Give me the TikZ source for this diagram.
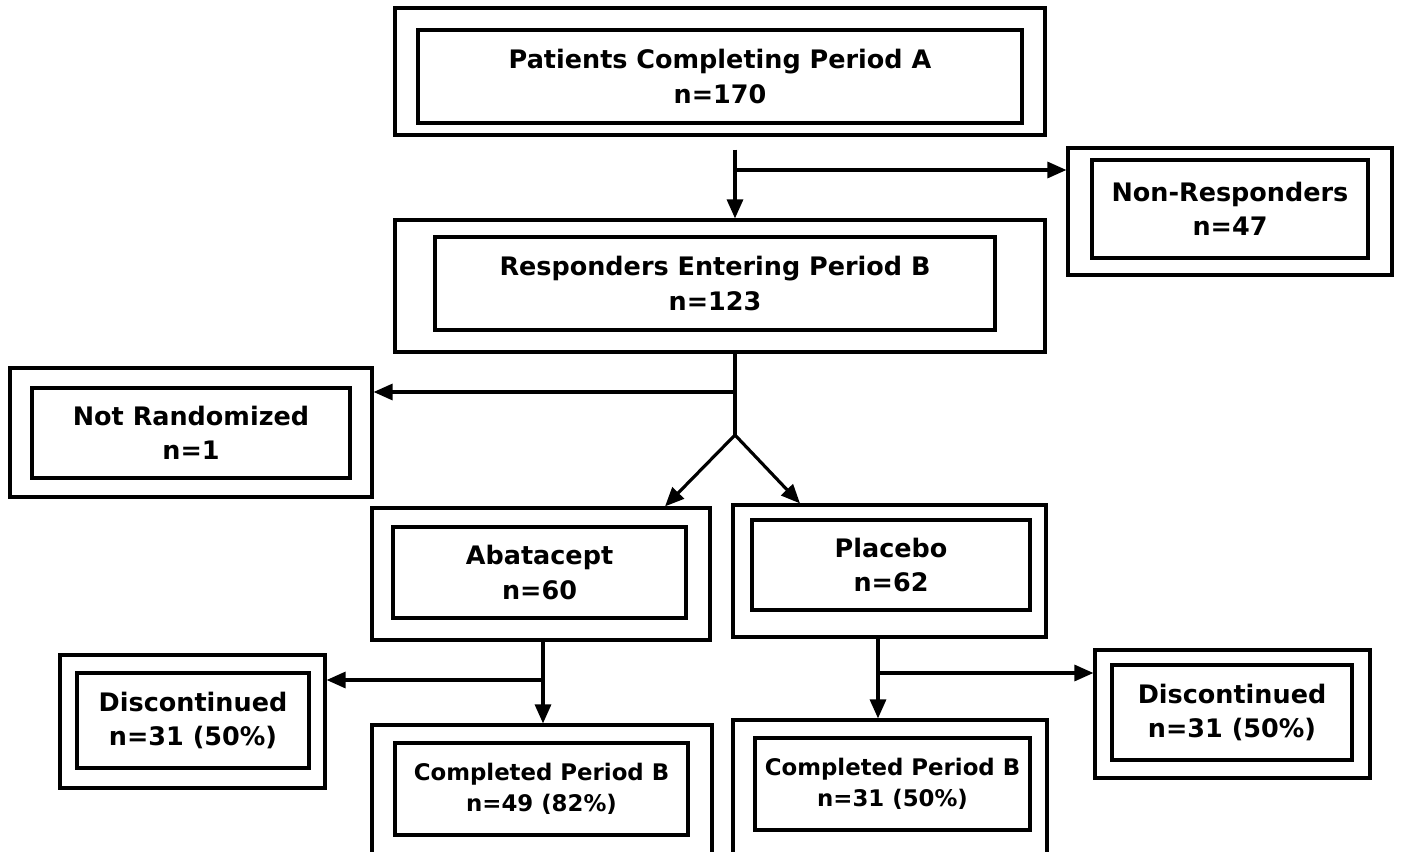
\documentclass[tikz,border=0pt]{standalone}
\usepackage{fontspec}
\setmainfont{DejaVu Sans}
\usepackage{tikz}
\usetikzlibrary{arrows.meta}
\usetikzlibrary{positioning}

\tikzset{
    outerbox/.style={draw, line width=1.8pt, rectangle, inner sep=0pt},
    innerbox/.style={draw, line width=1.8pt, rectangle, inner sep=0pt, align=center,
        font=\fontsize{14.5}{19.5}\selectfont\bfseries},
    smalltext/.style={font=\fontsize{13}{18}\selectfont\bfseries},
    flow/.style={line width=1.8pt, -{Triangle[length=0.38cm,width=0.32cm]}},
    plain/.style={line width=1.8pt}
}

\begin{document}
\begin{tikzpicture}

        \useasboundingbox (0, 0) rectangle (28.2, -17.04);
        \clip (0, 0) rectangle (28.2, -17.04);

        % Top row (outer frame first, then the inner frame with the text)
        \node (pa) [outerbox, minimum width=13cm, minimum height=2.54cm] at (14.4, -1.43) {};
        \node (pain) [innerbox, minimum width=12.08cm, minimum height=1.86cm] at (14.4, -1.53)
            {Patients Completing Period A\\n=170};

        \node (nr) [outerbox, minimum width=6.48cm, minimum height=2.54cm] at (24.6, -4.23) {};
        \node (nrin) [innerbox, minimum width=5.52cm, minimum height=1.96cm] at (24.6, -4.18)
            {Non-Responders\\n=47};

        % Second row
        \node (rb) [outerbox, minimum width=13cm, minimum height=2.64cm] at (14.4, -5.72) {};
        \node (rbin) [innerbox, minimum width=11.2cm, minimum height=1.86cm] at (14.3, -5.67)
            {Responders Entering Period B\\n=123};

        \node (nrand) [outerbox, minimum width=7.24cm, minimum height=2.58cm] at (3.82, -8.65) {};
        \node (nrandin) [innerbox, minimum width=6.36cm, minimum height=1.8cm] at (3.82, -8.66)
            {Not Randomized\\n=1};

        % Randomized arms
        \node (ab) [outerbox, minimum width=6.76cm, minimum height=2.64cm] at (10.82, -11.48) {};
        \node (abin) [innerbox, minimum width=5.86cm, minimum height=1.82cm] at (10.79, -11.45)
            {Abatacept\\n=60};

        \node (pl) [outerbox, minimum width=6.26cm, minimum height=2.64cm] at (17.79, -11.42) {};
        \node (plin) [innerbox, minimum width=5.56cm, minimum height=1.8cm] at (17.82, -11.3)
            {Placebo\\n=62};

        % Bottom row
        \node (dA) [outerbox, minimum width=5.3cm, minimum height=2.66cm] at (3.85, -14.43) {};
        \node (dAin) [innerbox, minimum width=4.64cm, minimum height=1.9cm] at (3.86, -14.41)
            {Discontinued\\n=31 (50\%)};

        \node (cA) [outerbox, minimum width=6.8cm, minimum height=2.9cm] at (10.84, -15.95) {};
        \node (cAin) [innerbox, smalltext, minimum width=5.86cm, minimum height=1.84cm] at (10.83, -15.78)
            {Completed Period B\\n=49 (82\%)};

        \node (cB) [outerbox, minimum width=6.28cm, minimum height=3cm] at (17.8, -15.9) {};
        \node (cBin) [innerbox, smalltext, minimum width=5.5cm, minimum height=1.84cm] at (17.85, -15.68)
            {Completed Period B\\n=31 (50\%)};

        \node (dB) [outerbox, minimum width=5.5cm, minimum height=2.56cm] at (24.65, -14.28) {};
        \node (dBin) [innerbox, minimum width=4.8cm, minimum height=1.9cm] at (24.64, -14.25)
            {Discontinued\\n=31 (50\%)};

        % Branch points
        \coordinate (s1) at (14.7, -3.4);
        \coordinate (s2) at (14.7, -7.84);
        \coordinate (apex) at (14.7, -8.7);
        \coordinate (s3) at (10.86, -13.6);
        \coordinate (s4) at (17.56, -13.46);

        % Connectors
        \draw[flow] ([xshift=0.3cm, yshift=-0.26cm]pa.south) -- ([xshift=0.3cm]rb.north);
        \draw[flow] (s1) -- (nr.west |- s1);

        \draw[plain] ([xshift=0.3cm]rb.south) -- (apex);
        \draw[flow] (s2) -- (nrand.east |- s2);
        \draw[flow] (apex) -- ([xshift=2.48cm]ab.north);
        \draw[flow] (apex) -- ([xshift=-1.79cm]pl.north);

        \draw[flow] ([xshift=0.04cm]ab.south) -- ([xshift=0.02cm]cA.north);
        \draw[flow] (s3) -- (dA.east |- s3);

        \draw[flow] ([xshift=-0.23cm]pl.south) -- ([xshift=-0.24cm]cB.north);
        \draw[flow] (s4) -- (dB.west |- s4);
\end{tikzpicture}
\end{document}
